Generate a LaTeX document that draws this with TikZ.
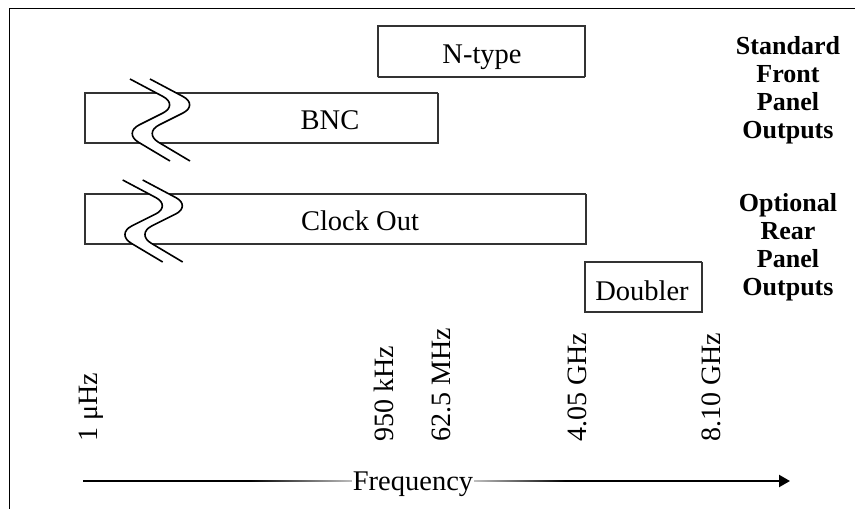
\documentclass[tikz,border=0pt]{standalone}
\usepackage{fontspec}
\setmainfont{Liberation Serif}
\usetikzlibrary{arrows.meta,fadings}
\tikzfading[name=fadeinright, left color=transparent!100, right color=transparent!0]
\tikzfading[name=fadeoutright, left color=transparent!0, right color=transparent!100]
\begin{document}
\begin{tikzpicture}[x=1pt,y=-1pt,
  box/.style={draw=black!80, line width=1.5pt, dash pattern=on 0.45pt off 0.35pt, inner sep=0},
  lbl/.style={font=\fontsize{28.5}{34}\selectfont, inner sep=0, anchor=base},
  tick/.style={font=\fontsize{28}{34}\selectfont, inner sep=0, rotate=90, anchor=base west},
  side/.style={font=\fontsize{26}{28}\selectfont\bfseries, align=center, inner sep=0, anchor=north},
  brkline/.style={line width=1.6pt, rounded corners=18pt},
  brkmark/.pic={
    \fill[white, rounded corners=18pt] (0,0) -- (49,26) -- (-7,54) -- (40,82) -- (60,82) -- (13,54) -- (69,26) -- (20,0) -- cycle;
    \draw[brkline] (0,0) -- (49,26) -- (-7,54) -- (40,82);
    \draw[brkline] (20,0) -- (69,26) -- (13,54) -- (60,82);
  }
]
\useasboundingbox (0,0) rectangle (855,509);
% frame
\draw[line width=1.6pt] (9.3,509) -- (9.3,8.3) -- (855,8.3);

% boxes
\node[box, minimum width=207pt, minimum height=51pt] (ntype) at (481.5,51.5) {};
\node[box, minimum width=353pt, minimum height=50pt] (bnc) at (261.5,118) {};
\node[box, minimum width=501pt, minimum height=50pt] (clk) at (335.5,219) {};
\node[box, minimum width=117pt, minimum height=50pt] (dbl) at (643.5,287) {};

% break marks
\pic at (130,79) {brkmark};
\pic at (122.7,180) {brkmark};

% box texts
\node[lbl] (ntypet) at (482,63) {N-type};
\node[lbl] (bnct) at (330,129) {BNC};
\node[lbl] (clkt) at (360,230) {Clock Out};
\node[lbl] (dblt) at (642,300) {Doubler};

% side labels
\node[side] (std) at (788,36) {Standard\\Front\\Panel\\Outputs};
\node[side] (opt) at (788,193) {Optional\\Rear\\Panel\\Outputs};

% frequency ticks
\node[tick] (f1) at (97,442) {1 μHz};
\node[tick] (f2) at (393,442) {950 kHz};
\node[tick] (f3) at (450,442) {62.5 MHz};
\node[tick] (f4) at (586,442) {4.05 GHz};
\node[tick] (f5) at (720,442) {8.10 GHz};

% frequency axis
\coordinate (fs) at (83,481);
\coordinate (fe) at (790,481);
\draw[line width=2.2pt, -{Triangle[length=11pt,width=12pt]}] (fs) -- (fe);
\fill[white, fill opacity=0.75, path fading=fadeinright] (250,477) rectangle (353,485);
\fill[white, fill opacity=0.75, path fading=fadeoutright] (474,477) rectangle (565,485);
\node[lbl, fill=white, inner xsep=1pt, inner ysep=1pt] (freq) at (413,490) {Frequency};
\end{tikzpicture}
\end{document}
